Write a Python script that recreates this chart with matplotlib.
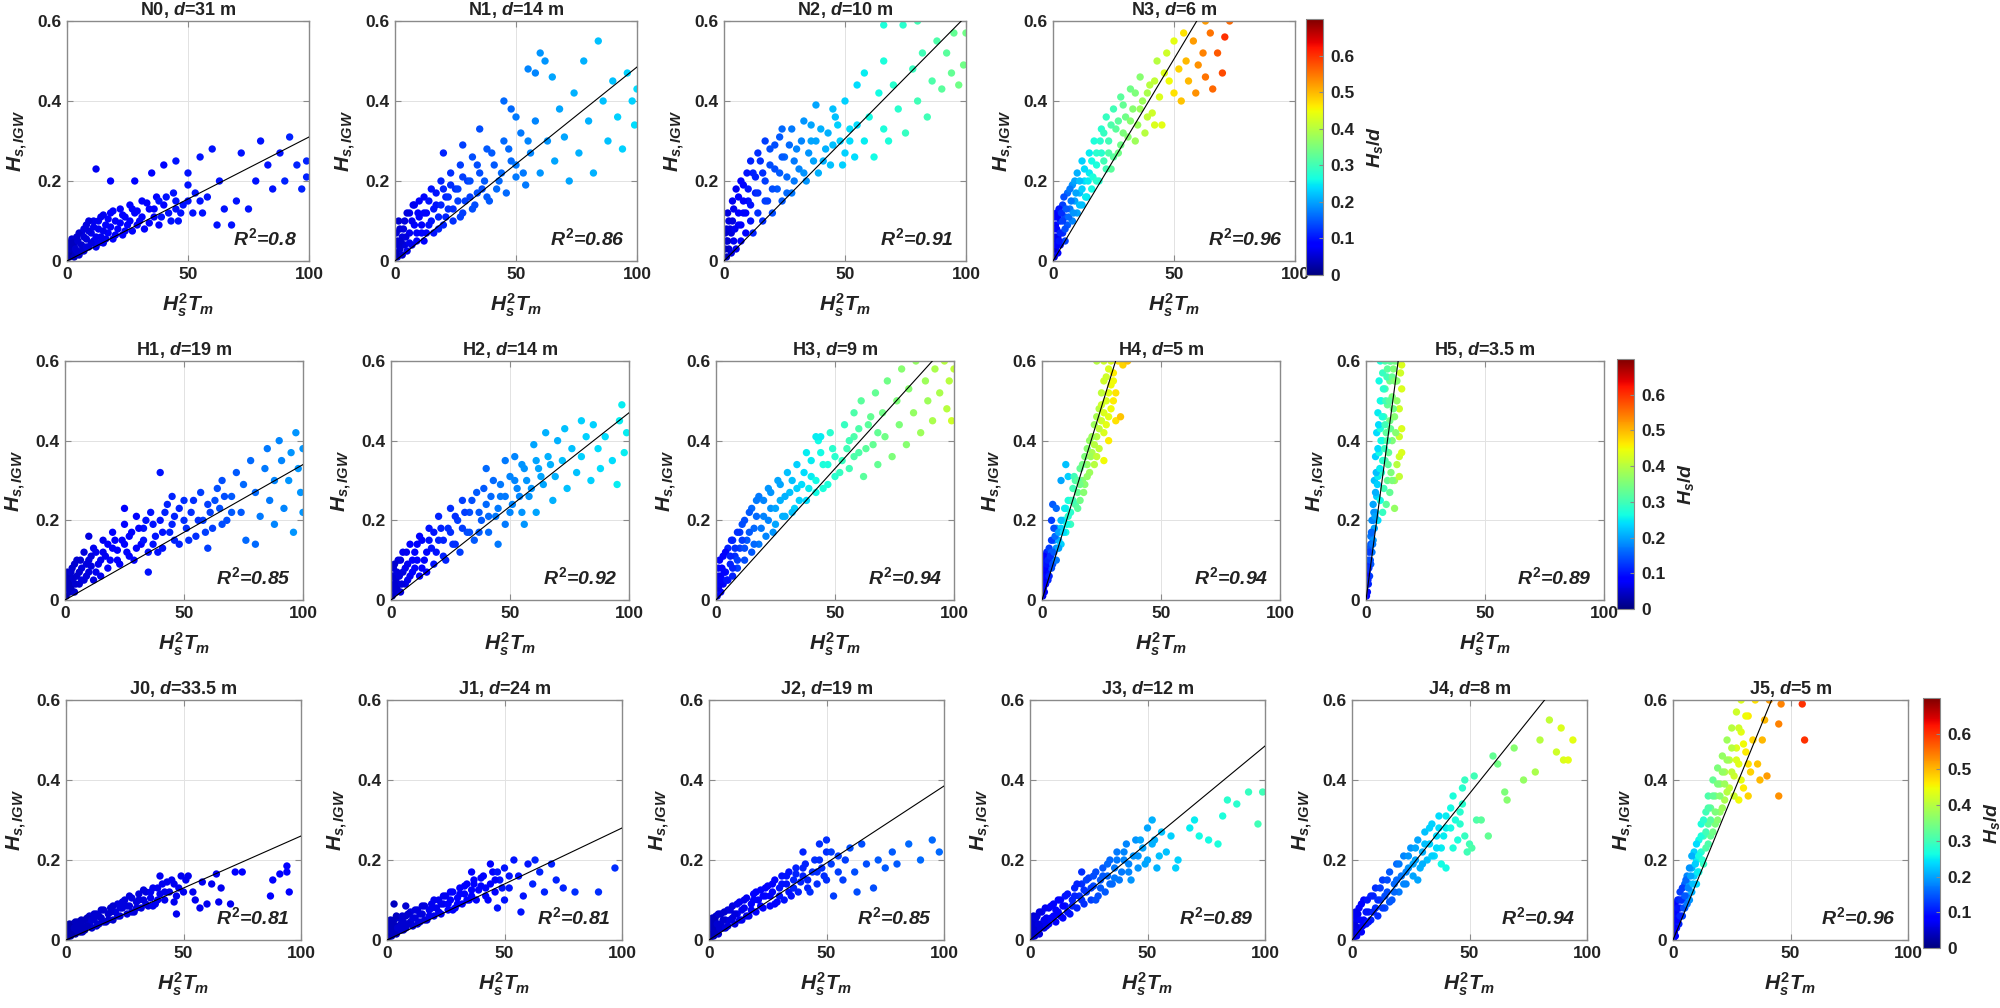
import numpy as np
import matplotlib
matplotlib.use("Agg")
import matplotlib.pyplot as plt
from matplotlib.colors import Normalize
from matplotlib.cm import ScalarMappable

plt.rcParams['font.family'] = ['Liberation Sans', 'DejaVu Sans']
plt.rcParams['font.weight'] = 'bold'
plt.rcParams['axes.titleweight'] = 'bold'
plt.rcParams['axes.labelweight'] = 'bold'
plt.rcParams['mathtext.fontset'] = 'custom'
plt.rcParams['mathtext.rm'] = 'Liberation Sans:bold'
plt.rcParams['mathtext.it'] = 'Liberation Sans:italic:bold'
plt.rcParams['mathtext.bf'] = 'Liberation Sans:bold'

# station info
stations = ['N0', 'N1', 'N2', 'N3', 'H1', 'H2', 'H3', 'H4', 'H5',
            'J0', 'J1', 'J2', 'J3', 'J4', 'J5']
depths = ['31', '14', '10', '6', '19', '14', '9', '5', '3.5',
          '33.5', '24', '19', '12', '8', '5']
r2_text = ['0.8', '0.86', '0.91', '0.96', '0.85', '0.92', '0.94', '0.94', '0.89',
           '0.81', '0.81', '0.85', '0.89', '0.94', '0.96']
fit_slope = [0.0031, 0.00485, 0.00612, 0.0101, 0.0034, 0.0047, 0.0066, 0.0194, 0.0444,
             0.0026, 0.0028, 0.00385, 0.00485, 0.00732, 0.0143]

# (Hs^2 Tm, Hs_IGW, Hs/d): outer cloud + dense core
n0_pts = [(1,.01,.03),(1,.04,.04),(2,.02,.04),(2,.055,.05),(3,.01,.04),(3,.04,.05),(4,.025,.05),(4,.06,.05),
          (5,.015,.05),(6,.04,.05),(6,.07,.06),(7,.025,.06),(8,.055,.06),(8,.09,.06),(9,.035,.06),(10,.07,.07),
          (11,.05,.07),(11,.1,.07),(12,.035,.07),(13,.08,.07),(14,.06,.07),(14,.11,.07),(15,.045,.07),(16,.09,.08),
          (17,.07,.08),(18,.12,.08),(19,.055,.08),(20,.1,.08),(21,.08,.08),(22,.13,.08),(23,.065,.08),(24,.11,.08),
          (25,.09,.08),(26,.14,.09),(27,.075,.09),(28,.12,.09),(30,.1,.09),(31,.15,.09),(32,.08,.09),(34,.13,.09),
          (36,.11,.09),(37,.16,.09),(38,.09,.09),(40,.14,.09),(42,.12,.1),(44,.17,.1),(46,.1,.1),(48,.14,.1),
          (50,.19,.1),(52,.12,.1),(12,.23,.07),(18,.2,.08),(28,.2,.09),(35,.22,.09),(40,.24,.09),(45,.25,.1),
          (50,.22,.1),(55,.26,.1),(60,.28,.1),(58,.16,.1),(63,.2,.1),(65,.13,.1),(68,.09,.1),(70,.15,.1),
          (72,.27,.1),(75,.13,.1),(78,.2,.1),(80,.3,.1),(83,.24,.1),(85,.18,.1),(88,.27,.1),(90,.2,.11),
          (92,.31,.11),(95,.24,.11),(97,.18,.11),(99,.25,.11),(99,.21,.11),(55,.15,.1),(62,.09,.1),(45,.13,.1)]
n0_core = [(.5,.02,.03),(.5,.045,.04),(1.5,.03,.04),(2.5,.045,.04),(3.5,.03,.05),(4.5,.05,.05),(5,.07,.05),
           (6,.025,.05),(7,.06,.06),(7,.08,.06),(8,.035,.06),(9,.075,.06),(9,.1,.06),(10,.045,.06),(11,.085,.07),
           (12,.06,.07),(13,.1,.07),(13,.045,.07),(15,.075,.07),(15,.115,.07),(16,.055,.07),(17,.105,.08),
           (18,.085,.08),(19,.125,.08),(20,.065,.08),(22,.095,.08),(23,.115,.08),(24,.075,.08),(26,.1,.09),
           (27,.13,.09),(29,.09,.09),(29,.125,.09),(31,.11,.09),(33,.145,.09),(34,.095,.09),(36,.13,.09),
           (38,.15,.1),(39,.11,.1),(41,.16,.1),(43,.1,.1),(45,.15,.1),(47,.12,.1),(50,.15,.1),(53,.17,.1),(56,.12,.1)]
n1_pts = [(1,.01,.04),(1,.05,.05),(2,.03,.05),(2,.08,.05),(3,.015,.05),(3,.06,.06),(4,.04,.06),(4,.1,.06),
          (5,.025,.07),(6,.07,.07),(6,.12,.07),(7,.04,.07),(8,.09,.08),(8,.14,.08),(9,.05,.08),(10,.11,.08),
          (11,.07,.09),(12,.16,.09),(12,.05,.09),(13,.12,.09),(14,.09,.1),(15,.18,.1),(16,.07,.1),(17,.14,.1),
          (18,.11,.11),(19,.2,.11),(20,.09,.11),(21,.16,.11),(22,.13,.12),(23,.22,.12),(24,.1,.12),(25,.18,.12),
          (26,.15,.13),(27,.24,.13),(28,.12,.13),(30,.2,.13),(31,.16,.13),(32,.26,.14),(33,.14,.14),(35,.22,.14),
          (36,.18,.14),(38,.28,.15),(39,.15,.15),(41,.24,.15),(43,.2,.16),(45,.3,.16),(46,.17,.16),(48,.25,.16),
          (50,.21,.17),(52,.32,.17),(54,.19,.17),(56,.27,.18),(20,.27,.11),(28,.29,.13),(35,.33,.14),(45,.4,.16),
          (48,.38,.16),(50,.36,.17),(55,.48,.18),(58,.47,.18),(60,.52,.19),(62,.5,.19),(65,.46,.2),(58,.35,.18),
          (60,.22,.19),(63,.3,.19),(66,.25,.2),(68,.38,.2),(70,.31,.2),(72,.2,.2),(74,.42,.21),(76,.27,.21),
          (78,.5,.21),(80,.35,.21),(82,.22,.21),(84,.55,.22),(86,.4,.22),(88,.3,.22),(90,.45,.22),(92,.36,.23),
          (94,.28,.23),(96,.47,.23),(98,.4,.23),(99,.34,.24),(100,.43,.24)]
n1_core = [(.5,.02,.04),(.5,.07,.05),(1.5,.04,.05),(1.5,.1,.05),(2.5,.05,.05),(3.5,.08,.06),(4.5,.06,.06),
           (5,.12,.06),(6,.045,.07),(7,.1,.07),(7.5,.14,.07),(9,.07,.08),(9.5,.12,.08),(10,.15,.08),(11,.09,.09),
           (12,.12,.09),(13,.07,.09),(14,.15,.1),(15,.1,.1),(16,.13,.1),(17,.17,.1),(18,.08,.11),(19,.14,.11),
           (20,.18,.11),(21,.11,.11),(22,.16,.12),(23,.19,.12),(24,.13,.12),(26,.18,.13),(27,.11,.13),
           (28,.21,.13),(29,.15,.13),(31,.2,.14),(32,.13,.14),(34,.17,.14),(34,.24,.14),(37,.2,.15),(38,.16,.15),
           (40,.27,.15),(42,.18,.16),(44,.22,.16),(47,.28,.16),(50,.24,.17),(53,.22,.17),(55,.3,.18)]
n2_pts = [(1,.01,.04),(1,.05,.05),(1,.08,.05),(2,.03,.05),(2,.1,.06),(3,.02,.06),(3,.07,.06),(4,.05,.07),
          (4,.13,.07),(5,.03,.07),(6,.09,.08),(6,.16,.08),(7,.05,.08),(8,.12,.09),(8,.19,.09),(9,.07,.09),
          (10,.15,.1),(11,.1,.1),(12,.22,.11),(12,.07,.11),(13,.17,.11),(14,.12,.12),(15,.25,.12),(16,.1,.12),
          (17,.2,.13),(18,.15,.13),(19,.28,.14),(20,.12,.14),(21,.23,.14),(22,.18,.15),(23,.31,.15),(24,.15,.15),
          (25,.26,.16),(26,.21,.16),(28,.33,.17),(28,.17,.17),(30,.28,.18),(31,.23,.18),(33,.35,.19),(34,.2,.19),
          (36,.3,.2),(37,.25,.2),(39,.22,.21),(40,.33,.21),(42,.28,.21),(44,.24,.22),(46,.36,.22),(48,.3,.23),
          (50,.27,.23),(38,.39,.2),(45,.38,.22),(50,.4,.23),(52,.33,.24),(54,.26,.24),(55,.44,.24),(58,.47,.25),
          (58,.3,.25),(60,.36,.26),(62,.26,.26),(64,.42,.26),(66,.5,.27),(66,.33,.27),(68,.3,.27),(70,.44,.28),
          (72,.38,.28),(74,.59,.28),(75,.32,.29),(78,.48,.29),(80,.4,.3),(82,.52,.3),(84,.36,.3),(86,.45,.31),
          (88,.55,.31),(90,.43,.32),(92,.52,.32),(94,.47,.33),(95,.57,.33),(97,.44,.34),(99,.49,.34),(100,.57,.34),
          (80,.6,.3),(66,.59,.27)]
n2_core = [(.5,.03,.04),(.5,.07,.05),(1.5,.05,.05),(1.5,.12,.06),(2.5,.08,.06),(3.5,.1,.06),(3.5,.15,.07),
           (4.5,.08,.07),(5,.18,.07),(6,.12,.08),(7,.09,.08),(7,.2,.08),(8,.15,.09),(9,.12,.09),(9.5,.22,.1),
           (10,.18,.1),(11,.14,.1),(11,.25,.11),(13,.21,.11),(14,.17,.12),(14,.27,.12),(16,.22,.12),(17,.15,.13),
           (17,.3,.13),(19,.24,.14),(20,.18,.14),(21,.29,.14),(23,.22,.15),(24,.26,.15),(24,.33,.16),(26,.17,.16),
           (27,.29,.16),(29,.2,.17),(29,.25,.17),(32,.3,.18),(33,.22,.19),(35,.27,.19),(36,.34,.2),(38,.3,.2),
           (41,.25,.21),(43,.32,.21),(45,.29,.22),(47,.34,.23),(49,.24,.23),(52,.3,.24),(55,.34,.24)]
n3_pts = [(.5,.01,.05),(.5,.05,.06),(1,.03,.07),(1,.09,.08),(1.5,.12,.09),(2,.02,.08),(2,.06,.09),(3,.04,.1),
          (3,.1,.11),(4,.07,.12),(4,.14,.13),(5,.05,.13),(5,.11,.14),(6,.09,.15),(6,.17,.16),(7,.13,.17),
          (8,.1,.18),(8,.19,.19),(9,.15,.2),(10,.12,.2),(10,.22,.21),(11,.17,.22),(12,.14,.22),(12,.25,.23),
          (13,.2,.24),(14,.16,.24),(15,.27,.25),(15,.22,.25),(16,.18,.26),(17,.3,.27),(18,.24,.27),(19,.2,.28),
          (20,.33,.28),(20,.27,.28),(22,.23,.3),(22,.36,.29),(23,.3,.3),(25,.26,.32),(25,.38,.3),(26,.33,.32),
          (28,.29,.34),(28,.41,.32),(30,.36,.34),(31,.31,.36),(32,.43,.34),(33,.38,.36),(35,.34,.38),(36,.46,.36),
          (37,.4,.38),(38,.32,.4),(40,.44,.4),(41,.37,.42),(43,.5,.4),(44,.41,.43),(45,.34,.44),(47,.52,.42),
          (48,.45,.45),(50,.55,.44),(50,.42,.47),(52,.48,.48),(53,.4,.49),(54,.57,.47),(55,.5,.5),(56,.45,.5),
          (58,.55,.52),(59,.42,.53),(60,.49,.53),(62,.52,.54),(63,.46,.55),(65,.57,.55),(66,.43,.56),(68,.52,.57),
          (70,.47,.58),(71,.56,.6),(73,.6,.56),(63,.6,.52)]
n3_core = [(.3,.03,.05),(.3,.08,.06),(.8,.06,.07),(.8,.11,.08),(1.5,.04,.08),(1.5,.08,.09),(2,.11,.09),
           (2.5,.05,.1),(2.5,.13,.1),(3,.07,.11),(3.5,.12,.12),(4,.1,.13),(4.5,.16,.14),(5,.08,.14),(5.5,.13,.15),
           (6.5,.11,.16),(7,.18,.17),(7.5,.15,.17),(8.5,.12,.19),(9,.2,.2),(9.5,.17,.2),(11,.2,.22),(11,.14,.22),
           (12,.18,.23),(13,.23,.24),(13.5,.16,.25),(14.5,.2,.25),(16,.25,.26),(16.5,.21,.27),(18,.27,.28),
           (18,.2,.28),(19.5,.3,.28),(21,.25,.3),(21,.32,.29),(23,.27,.31),(24,.34,.31),(24,.23,.32),(27,.35,.32),
           (27,.27,.34),(29,.39,.33),(29,.32,.35),(32,.35,.36),(34,.42,.35),(34,.3,.38),(36,.38,.38),(39,.42,.39),
           (39,.36,.41),(42,.45,.41),(42,.34,.43),(46,.47,.43)]
h1_pts = [(.5,.01,.03),(.5,.05,.04),(1,.03,.04),(1,.07,.04),(2,.02,.04),(2,.05,.04),(3,.04,.05),(3,.08,.05),
          (4,.02,.05),(5,.06,.05),(5,.1,.05),(6,.04,.05),(7,.08,.06),(8,.05,.06),(8,.12,.06),(10,.07,.06),
          (10,.1,.06),(12,.05,.06),(12,.13,.07),(14,.09,.07),(15,.06,.07),(16,.15,.07),(17,.11,.07),(18,.08,.08),
          (20,.13,.08),(20,.17,.08),(22,.1,.08),(24,.15,.08),(25,.19,.08),(26,.12,.09),(28,.17,.09),(29,.1,.09),
          (30,.21,.09),(32,.14,.09),(33,.18,.1),(35,.12,.1),(36,.22,.1),(38,.16,.1),(40,.2,.1),(41,.13,.1),
          (43,.24,.11),(44,.17,.11),(46,.21,.11),(48,.14,.11),(50,.25,.12),(51,.18,.12),(53,.22,.12),(55,.16,.12),
          (57,.27,.13),(58,.2,.13),(60,.24,.13),(62,.18,.13),(64,.28,.14),(10,.16,.06),(25,.23,.08),(40,.32,.1),
          (45,.26,.11),(35,.07,.1),(60,.13,.13),(65,.23,.14),(66,.3,.14),(68,.2,.14),(70,.26,.15),(72,.32,.15),
          (74,.22,.15),(75,.29,.16),(76,.15,.16),(78,.35,.16),(80,.27,.16),(82,.21,.17),(84,.33,.17),(85,.38,.17),
          (86,.25,.17),(88,.19,.18),(88,.3,.18),(90,.4,.18),(91,.35,.18),(92,.23,.18),(94,.3,.19),(95,.37,.19),
          (96,.17,.19),(97,.42,.19),(98,.33,.19),(99,.27,.19),(100,.38,.19),(100,.22,.19),(80,.14,.16)]
h1_core = [(.5,.03,.04),(1,.05,.04),(1.5,.04,.04),(1.5,.065,.04),(2.5,.03,.04),(2.5,.07,.05),(3.5,.055,.05),
           (4,.09,.05),(4.5,.04,.05),(6,.07,.05),(6.5,.1,.05),(7,.05,.06),(9,.09,.06),(9,.06,.06),(11,.11,.06),
           (11,.085,.06),(13,.07,.07),(13,.12,.07),(15,.1,.07),(16,.12,.07),(18,.14,.08),(19,.1,.08),(21,.15,.08),
           (22,.125,.08),(23,.09,.08),(25,.14,.08),(27,.11,.09),(27,.16,.09),(30,.13,.09),(31,.18,.09),(33,.15,.1),
           (34,.2,.1),(37,.14,.1),(37,.19,.1),(39,.12,.1),(41,.17,.1),(42,.22,.11),(45,.19,.11),(46,.15,.11),
           (48,.23,.11),(50,.2,.12),(52,.15,.12),(54,.25,.12),(56,.2,.12),(59,.17,.13),(61,.22,.13),(63,.25,.14),
           (66,.19,.14),(67,.26,.14),(70,.22,.15)]
h2_pts = [(.5,.01,.04),(.5,.06,.05),(1,.03,.05),(1,.08,.05),(2,.02,.05),(2,.05,.05),(3,.04,.06),(3,.1,.06),
          (4,.02,.06),(5,.07,.06),(5,.12,.07),(6,.04,.07),(7,.09,.07),(8,.06,.07),(8,.14,.08),(10,.08,.08),
          (10,.12,.08),(12,.06,.08),(12,.16,.09),(14,.1,.09),(15,.07,.09),(16,.18,.1),(17,.13,.1),(18,.09,.1),
          (20,.15,.11),(20,.21,.11),(22,.11,.11),(24,.18,.12),(25,.23,.12),(26,.14,.12),(28,.2,.13),(29,.12,.13),
          (30,.25,.13),(32,.17,.14),(33,.22,.14),(35,.15,.15),(36,.27,.15),(38,.2,.15),(40,.24,.16),(41,.17,.16),
          (43,.3,.16),(44,.21,.17),(46,.26,.17),(48,.19,.17),(50,.31,.18),(51,.24,.18),(53,.28,.18),(55,.22,.19),
          (40,.33,.16),(48,.35,.17),(45,.14,.17),(52,.36,.18),(55,.34,.19),(56,.19,.19),(57,.3,.19),(58,.26,.19),
          (60,.39,.2),(61,.22,.2),(62,.33,.2),(64,.29,.2),(65,.42,.21),(66,.36,.21),(68,.25,.21),(69,.31,.21),
          (70,.4,.21),(72,.35,.22),(73,.43,.22),(74,.28,.22),(76,.38,.22),(78,.32,.22),(80,.45,.23),(80,.36,.23),
          (82,.41,.23),(84,.3,.23),(85,.44,.23),(87,.38,.24),(88,.33,.24),(90,.41,.24),(93,.35,.24),(95,.29,.25),
          (96,.45,.25),(97,.49,.25),(98,.37,.25),(99,.42,.25)]
h2_core = [(.5,.03,.05),(1,.06,.05),(1.5,.04,.05),(1.5,.09,.05),(2.5,.03,.05),(2.5,.07,.06),(3.5,.06,.06),
           (4,.1,.06),(4.5,.04,.06),(6,.08,.07),(6.5,.12,.07),(7,.05,.07),(9,.1,.08),(9,.07,.08),(11,.14,.08),
           (11,.1,.08),(13,.08,.09),(13,.15,.09),(15,.12,.09),(16,.15,.1),(18,.17,.1),(19,.12,.1),(21,.18,.11),
           (22,.15,.11),(23,.1,.11),(25,.17,.12),(27,.14,.12),(27,.21,.12),(30,.18,.13),(31,.22,.13),(33,.17,.14),
           (34,.25,.14),(37,.22,.15),(37,.17,.15),(39,.28,.15),(41,.21,.16),(42,.26,.16),(45,.23,.17),(46,.29,.17),
           (48,.26,.17),(50,.22,.18),(52,.3,.18),(54,.26,.18),(56,.33,.19),(59,.28,.19),(61,.35,.2),(63,.31,.2),
           (67,.34,.21)]
h3_pts = [(.5,.01,.06),(.5,.05,.07),(1,.03,.07),(1,.08,.08),(2,.02,.08),(2,.06,.08),(3,.04,.09),(3,.11,.09),
          (4,.07,.1),(5,.05,.1),(5,.13,.11),(6,.09,.11),(7,.06,.11),(7,.15,.12),(8,.11,.12),(9,.08,.13),
          (10,.17,.13),(10,.13,.13),(12,.1,.14),(12,.2,.14),(13,.15,.15),(15,.12,.15),(15,.23,.16),(16,.18,.16),
          (18,.14,.17),(18,.26,.17),(20,.21,.18),(21,.16,.18),(22,.28,.19),(23,.23,.19),(25,.19,.2),(26,.3,.2),
          (27,.25,.21),(29,.21,.21),(30,.32,.22),(31,.27,.22),(33,.23,.23),(34,.34,.23),(36,.29,.24),(38,.25,.24),
          (38,.37,.25),(40,.31,.25),(42,.27,.26),(43,.4,.26),(45,.34,.27),(47,.29,.27),(48,.42,.28),(50,.36,.28),
          (52,.32,.29),(54,.44,.29),(55,.38,.3),(42,.41,.25),(44,.41,.25),(56,.33,.3),(58,.47,.31),(58,.41,.31),
          (60,.37,.31),(61,.5,.32),(62,.31,.32),(64,.44,.32),(66,.39,.33),(67,.52,.33),(68,.34,.33),(70,.47,.34),
          (71,.41,.34),(72,.55,.34),(74,.36,.35),(76,.5,.35),(77,.44,.35),(78,.58,.36),(80,.39,.36),(81,.53,.36),
          (83,.47,.37),(84,.6,.37),(86,.42,.38),(88,.55,.38),(89,.5,.38),(91,.45,.39),(92,.58,.39),(94,.52,.39),
          (96,.6,.4),(97,.48,.4),(98,.55,.4),(100,.58,.41),(99,.45,.42)]
h3_core = [(.5,.03,.06),(1,.06,.07),(1.5,.04,.07),(1.5,.1,.08),(2.5,.05,.08),(2.5,.08,.08),(3.5,.07,.09),
           (4,.12,.09),(4.5,.05,.1),(6,.11,.11),(6.5,.15,.11),(7,.08,.11),(8,.13,.12),(9,.17,.12),(9,.1,.13),
           (11,.15,.13),(11,.19,.14),(12,.13,.14),(14,.17,.15),(14,.22,.15),(16,.14,.16),(17,.21,.16),(17,.25,.17),
           (19,.18,.17),(20,.25,.18),(22,.2,.18),(23,.27,.19),(24,.17,.19),(25,.23,.2),(27,.29,.2),(28,.21,.21),
           (29,.26,.21),(32,.3,.22),(32,.22,.22),(34,.28,.23),(35,.25,.23),(37,.32,.24),(39,.28,.25),(40,.35,.25),
           (42,.3,.26),(44,.37,.26),(45,.28,.27),(47,.34,.27),(49,.38,.28),(50,.31,.28),(53,.35,.29),(56,.4,.3),
           (58,.36,.31),(60,.43,.31),(63,.38,.32),(65,.46,.33),(68,.42,.33)]
h4_pts = [(.3,.01,.06),(.3,.05,.07),(.6,.03,.07),(.6,.09,.08),(1,.02,.08),(1,.06,.09),(1.5,.04,.09),(1.5,.1,.1),
          (2,.07,.1),(2,.12,.11),(2.5,.05,.11),(3,.09,.12),(3,.13,.13),(4,.08,.14),(4,.12,.15),(5,.1,.16),
          (5,.15,.17),(6,.13,.19),(6,.18,.2),(7,.15,.21),(8,.18,.23),(8,.14,.23),(9,.2,.25),(10,.17,.26),
          (10,.23,.26),(11,.21,.28),(12,.25,.29),(12,.19,.29),(13,.28,.3),(14,.24,.31),(14,.3,.31),(15,.27,.33),
          (16,.33,.33),(16,.25,.34),(17,.3,.35),(18,.36,.35),(18,.29,.36),(19,.34,.37),(20,.4,.37),(20,.32,.38),
          (21,.37,.39),(22,.44,.38),(22,.34,.4),(23,.41,.4),(24,.48,.4),(24,.38,.41),(25,.45,.42),(25,.52,.41),
          (26,.42,.43),(27,.5,.43),(27,.56,.42),(28,.46,.44),(29,.54,.45),(29,.6,.43),(30,.5,.46),(4,.2,.13),
          (4.5,.24,.15),(5,.18,.14),(6,.23,.16),(8,.3,.2),(10,.34,.22),(11,.31,.23),(26,.35,.45),(28,.4,.46),
          (30,.57,.46),(31,.45,.47),(32,.6,.47),(33,.46,.49),(34,.59,.48),(36,.6,.49),(23,.6,.4),(26,.6,.42)]
h4_core = [(.2,.02,.06),(.2,.07,.07),(.5,.05,.07),(.8,.11,.08),(1,.04,.08),(1.2,.08,.09),(1.8,.06,.09),
           (2,.09,.1),(2.5,.1,.11),(3,.06,.11),(3.5,.11,.12),(4,.15,.13),(4.5,.09,.14),(5,.12,.15),(5.5,.16,.16),
           (6,.1,.17),(7,.17,.2),(7,.13,.2),(8,.2,.22),(9,.17,.24),(9.5,.23,.25),(10.5,.19,.26),(11,.25,.27),
           (12,.22,.28),(13,.25,.3),(13.5,.31,.3),(15,.23,.32),(15,.3,.32),(16,.29,.34),(17,.34,.34),
           (17.5,.27,.36),(19,.31,.37),(19,.38,.36),(20.5,.36,.38),(21,.41,.38),(22,.39,.4),(23,.36,.41),
           (23,.46,.39),(24,.43,.41),(25,.49,.42),(26,.47,.43),(26,.55,.42),(27,.44,.44),(28,.52,.44),(28,.58,.43),
           (29,.48,.45),(30,.55,.45),(31,.52,.47)]
h5_pts = [(.2,.01,.08),(.3,.04,.09),(.6,.02,.1),(.5,.07,.11),(1,.04,.12),(1,.1,.13),(1.5,.06,.13),(1.5,.13,.15),
          (2,.09,.15),(2,.16,.17),(2.5,.12,.17),(2.5,.2,.19),(3,.15,.19),(3,.24,.2),(3.5,.18,.2),(3.5,.3,.22),
          (4,.22,.22),(4,.36,.23),(4.5,.26,.23),(4.5,.42,.24),(5,.2,.24),(5,.31,.25),(5,.47,.25),(5.5,.37,.26),
          (5.5,.55,.26),(6,.25,.26),(6,.43,.27),(6,.6,.27),(6.5,.32,.28),(6.5,.5,.28),(7,.22,.29),(7,.4,.29),
          (7,.57,.29),(7.5,.28,.3),(7.5,.46,.3),(8,.35,.31),(8,.53,.31),(8,.6,.31),(8.5,.24,.32),(8.5,.42,.32),
          (9,.3,.33),(9,.49,.33),(9,.58,.32),(9.5,.37,.33),(10,.45,.34),(10,.55,.34),(10.5,.32,.35),(10.5,.6,.34),
          (11,.4,.35),(11,.51,.35),(11.5,.58,.35),(12,.46,.36),(12.5,.55,.36),(13,.6,.37),(13,.5,.37),(12,.3,.38),
          (13,.34,.4),(14,.36,.42),(15,.37,.43),(14,.31,.41),(15,.43,.43),(14,.48,.42),(15,.53,.43),(15,.59,.43),
          (14.5,.57,.42),(12,.23,.37),(14,.41,.42)]
h5_core = [(.1,.02,.08),(.3,.06,.09),(.5,.04,.1),(.7,.09,.11),(.8,.05,.11),(1.2,.08,.12),(1.3,.12,.13),
           (1.8,.1,.14),(2,.14,.15),(2.3,.17,.16),(2.8,.14,.17),(3,.2,.18),(3.3,.22,.19),(3.8,.21,.2),(4,.27,.21),
           (4.3,.32,.22),(4.8,.29,.23),(5,.38,.24),(5.3,.44,.24),(5.8,.33,.25),(6,.5,.26),(6.3,.4,.26),
           (6.8,.46,.27),(7,.35,.28),(7.3,.53,.28),(7.8,.38,.29),(8,.44,.3),(8.3,.5,.3),(8.8,.56,.3),(9,.4,.31),
           (9.3,.34,.32),(9.8,.5,.32),(10,.6,.32),(10.3,.43,.33),(11,.56,.33),(11.5,.48,.34),(12,.55,.35),
           (12,.6,.34),(12.5,.42,.36),(13,.55,.36),(10,.27,.33),(11,.3,.35)]
j0_pts = [(.5,.005,.02),(.5,.025,.03),(1,.015,.03),(1,.035,.03),(2,.01,.03),(2,.03,.03),(3,.02,.03),(3,.04,.04),
          (4,.015,.04),(5,.03,.04),(5,.045,.04),(6,.02,.04),(7,.035,.04),(8,.05,.04),(8,.025,.04),(10,.04,.05),
          (10,.06,.05),(11,.03,.05),(12,.05,.05),(13,.065,.05),(14,.04,.05),(15,.055,.05),(16,.075,.05),(17,.045,.05),
          (18,.065,.05),(19,.08,.05),(20,.05,.05),(21,.07,.06),(22,.09,.06),(23,.06,.06),(24,.08,.06),(25,.1,.06),
          (26,.065,.06),(27,.085,.06),(28,.105,.06),(29,.07,.06),(30,.095,.06),(31,.115,.06),(32,.08,.06),(33,.1,.06),
          (34,.12,.06),(35,.085,.06),(36,.105,.07),(37,.13,.07),(38,.09,.07),(40,.115,.07),(41,.14,.07),(42,.1,.07),
          (44,.12,.07),(45,.15,.07),(46,.095,.07),(48,.13,.07),(40,.16,.07),(47,.065,.07),(49,.16,.07),(52,.16,.07),
          (54,.12,.07),(55,.1,.07),(57,.08,.07),(58,.145,.07),(60,.09,.07),(62,.14,.07),(64,.165,.07),(65,.095,.07),
          (66,.13,.07),(70,.09,.07),(72,.17,.08),(75,.17,.08),(87,.11,.08),(88,.15,.08),(91,.165,.08),(94,.185,.08),
          (94,.17,.08),(95,.12,.08)]
j0_core = [(.5,.015,.03),(1.5,.025,.03),(1.5,.04,.03),(2.5,.015,.03),(2.5,.035,.03),(3.5,.03,.04),(4,.045,.04),
           (4.5,.025,.04),(6,.035,.04),(6.5,.05,.04),(7,.02,.04),(9,.035,.04),(9,.055,.04),(11,.05,.05),
           (12,.065,.05),(13,.035,.05),(14,.06,.05),(15,.075,.05),(16,.045,.05),(18,.05,.05),(19,.07,.05),
           (20,.085,.05),(22,.06,.06),(23,.08,.06),(24,.095,.06),(26,.085,.06),(27,.11,.06),(28,.07,.06),
           (30,.08,.06),(31,.1,.06),(33,.125,.06),(34,.09,.06),(36,.12,.07),(37,.085,.07),(39,.13,.07),(39,.1,.07),
           (42,.12,.07),(43,.145,.07),(46,.14,.07),(47,.11,.07),(50,.12,.07),(51,.15,.07)]
j1_pts = [(.5,.005,.03),(.5,.03,.03),(1,.015,.03),(1,.04,.04),(2,.01,.04),(2,.035,.04),(3,.02,.04),(3,.05,.04),
          (4,.015,.04),(5,.035,.05),(5,.055,.05),(6,.025,.05),(7,.045,.05),(8,.06,.05),(8,.03,.05),(10,.045,.05),
          (10,.07,.06),(11,.035,.06),(12,.055,.06),(13,.075,.06),(14,.045,.06),(15,.065,.06),(16,.085,.06),(17,.05,.06),
          (18,.075,.07),(19,.09,.07),(20,.06,.07),(21,.08,.07),(22,.1,.07),(23,.065,.07),(24,.09,.07),(25,.11,.07),
          (26,.075,.08),(27,.1,.08),(28,.12,.08),(29,.08,.08),(30,.105,.08),(31,.13,.08),(32,.09,.08),(33,.115,.08),
          (34,.14,.08),(35,.1,.08),(36,.125,.09),(37,.15,.09),(38,.1,.09),(40,.135,.09),(41,.16,.09),(42,.11,.09),
          (44,.14,.09),(45,.17,.09),(46,.12,.09),(48,.15,.1),(50,.18,.1),(3,.09,.04),(8,.085,.05),(36,.17,.09),
          (44,.19,.09),(47,.08,.1),(50,.1,.1),(52,.13,.1),(54,.2,.1),(56,.16,.1),(57,.07,.1),(58,.11,.1),
          (60,.19,.1),(62,.14,.11),(63,.2,.11),(65,.17,.11),(67,.12,.11),(70,.19,.11),(72,.15,.11),(75,.13,.11),
          (80,.12,.12),(90,.12,.12),(97,.18,.12)]
j1_core = [(.5,.02,.03),(1.5,.025,.04),(1.5,.05,.04),(2.5,.02,.04),(2.5,.045,.04),(3.5,.035,.04),(4,.06,.04),
           (4.5,.03,.05),(6,.04,.05),(6.5,.06,.05),(7,.025,.05),(9,.04,.05),(9,.065,.05),(11,.055,.06),
           (12,.075,.06),(13,.04,.06),(14,.065,.06),(15,.085,.06),(16,.05,.06),(18,.06,.07),(19,.08,.07),
           (20,.1,.07),(22,.07,.07),(23,.09,.07),(24,.11,.07),(26,.09,.08),(27,.12,.08),(28,.075,.08),(30,.09,.08),
           (31,.115,.08),(33,.135,.08),(34,.1,.08),(36,.11,.09),(37,.14,.09),(39,.125,.09),(40,.155,.09),
           (42,.13,.09),(43,.1,.09),(46,.15,.09),(47,.17,.1),(49,.13,.1),(52,.16,.1)]
j2_pts = [(.5,.005,.03),(.5,.035,.04),(1,.015,.04),(1,.045,.04),(2,.01,.04),(2,.04,.04),(3,.025,.05),(3,.06,.05),
          (4,.015,.05),(5,.04,.05),(5,.065,.05),(6,.03,.05),(7,.05,.06),(8,.075,.06),(8,.035,.06),(10,.055,.06),
          (10,.085,.06),(11,.04,.06),(12,.065,.07),(13,.095,.07),(14,.05,.07),(15,.08,.07),(16,.105,.07),(17,.06,.07),
          (18,.09,.08),(19,.115,.08),(20,.07,.08),(21,.1,.08),(22,.125,.08),(23,.08,.08),(24,.11,.09),(25,.135,.09),
          (26,.085,.09),(27,.12,.09),(28,.15,.09),(29,.095,.09),(30,.13,.1),(31,.16,.1),(32,.1,.1),(33,.14,.1),
          (34,.17,.1),(35,.11,.1),(36,.15,.11),(37,.18,.11),(38,.12,.11),(40,.16,.11),(41,.19,.11),(42,.13,.11),
          (44,.17,.12),(45,.2,.12),(46,.14,.12),(48,.18,.12),(50,.22,.12),(50,.15,.12),(40,.22,.11),(47,.24,.12),
          (50,.25,.12),(52,.19,.13),(53,.11,.13),(55,.21,.13),(57,.15,.13),(58,.2,.13),(60,.23,.14),(62,.17,.14),
          (63,.12,.14),(65,.24,.14),(67,.19,.14),(70,.13,.14),(72,.2,.15),(75,.18,.15),(78,.22,.15),(80,.19,.15),
          (85,.24,.16),(90,.2,.16),(95,.25,.16),(98,.22,.16)]
j2_core = [(.5,.02,.03),(1.5,.03,.04),(1.5,.055,.04),(2.5,.02,.04),(2.5,.05,.04),(3.5,.04,.05),(4,.065,.05),
           (4.5,.03,.05),(6,.05,.05),(6.5,.07,.05),(7,.03,.06),(9,.05,.06),(9,.075,.06),(11,.065,.06),(12,.09,.07),
           (13,.05,.07),(14,.075,.07),(15,.1,.07),(16,.06,.07),(18,.075,.08),(19,.1,.08),(20,.12,.08),(22,.085,.08),
           (23,.11,.08),(24,.13,.09),(26,.11,.09),(27,.14,.09),(28,.09,.09),(30,.11,.1),(31,.14,.1),(33,.16,.1),
           (34,.12,.1),(36,.13,.11),(37,.165,.11),(39,.145,.11),(40,.18,.11),(42,.15,.11),(43,.12,.12),
           (46,.17,.12),(47,.2,.12),(49,.16,.12),(52,.22,.13),(55,.17,.13)]
j3_pts = [(.5,.005,.04),(.5,.04,.05),(1,.02,.05),(1,.05,.05),(2,.01,.05),(2,.045,.05),(3,.025,.06),(3,.06,.06),
          (4,.015,.06),(5,.04,.06),(5,.07,.07),(6,.03,.07),(7,.055,.07),(8,.08,.07),(8,.04,.08),(10,.06,.08),
          (10,.09,.08),(11,.045,.08),(12,.07,.09),(13,.1,.09),(14,.055,.09),(15,.085,.1),(16,.115,.1),(17,.065,.1),
          (18,.1,.11),(19,.13,.11),(20,.08,.11),(21,.11,.12),(22,.14,.12),(23,.09,.12),(24,.12,.13),(25,.155,.13),
          (26,.1,.13),(27,.135,.14),(28,.17,.14),(29,.11,.14),(30,.15,.15),(31,.18,.15),(32,.12,.15),(33,.16,.16),
          (34,.2,.16),(35,.14,.16),(36,.18,.17),(37,.22,.17),(38,.15,.17),(40,.2,.18),(41,.24,.18),(42,.17,.18),
          (44,.21,.19),(45,.25,.19),(46,.18,.19),(48,.23,.2),(50,.28,.2),(50,.2,.2),(22,.17,.12),(52,.3,.21),
          (53,.25,.21),(54,.18,.21),(56,.27,.22),(58,.22,.22),(60,.26,.23),(62,.18,.23),(63,.2,.23),(68,.28,.25),
          (70,.3,.25),(72,.26,.26),(76,.25,.26),(80,.24,.27),(82,.31,.27),(84,.35,.28),(88,.34,.28),(93,.37,.29),
          (97,.29,.3),(99,.37,.3)]
j3_core = [(.5,.02,.04),(1.5,.03,.05),(1.5,.06,.05),(2.5,.02,.05),(2.5,.055,.06),(3.5,.04,.06),(4,.07,.06),
           (4.5,.03,.06),(6,.05,.07),(6.5,.08,.07),(7,.035,.07),(9,.055,.08),(9,.085,.08),(11,.075,.08),
           (12,.1,.09),(13,.06,.09),(14,.085,.09),(15,.11,.1),(16,.07,.1),(18,.085,.11),(19,.11,.11),(20,.14,.11),
           (22,.1,.12),(23,.125,.12),(24,.15,.13),(26,.13,.13),(27,.16,.14),(28,.1,.14),(30,.13,.15),(31,.16,.15),
           (33,.19,.16),(34,.14,.16),(36,.155,.17),(37,.2,.17),(39,.17,.17),(40,.22,.18),(42,.19,.18),(43,.15,.19),
           (46,.21,.19),(47,.25,.2),(49,.19,.2),(52,.24,.21),(55,.21,.22)]
j4_pts = [(.5,.005,.05),(.5,.04,.06),(1,.02,.06),(1,.06,.07),(2,.01,.07),(2,.05,.07),(3,.03,.08),(3,.08,.08),
          (4,.02,.08),(5,.05,.09),(5,.1,.09),(6,.04,.1),(7,.07,.1),(8,.11,.11),(8,.05,.11),(10,.08,.12),
          (10,.13,.12),(11,.06,.12),(12,.1,.13),(13,.15,.13),(14,.08,.14),(15,.12,.14),(16,.17,.15),(17,.1,.15),
          (18,.14,.16),(19,.19,.16),(20,.12,.17),(21,.16,.17),(22,.21,.18),(23,.14,.18),(24,.18,.19),(25,.23,.19),
          (26,.16,.2),(27,.2,.2),(28,.25,.2),(29,.18,.21),(30,.22,.21),(31,.27,.22),(32,.2,.22),(33,.24,.23),
          (34,.29,.23),(35,.21,.24),(36,.26,.24),(37,.31,.24),(38,.23,.25),(40,.28,.25),(42,.33,.26),(44,.3,.27),
          (45,.25,.27),(38,.19,.26),(40,.18,.26),(43,.36,.27),(46,.32,.28),(47,.38,.28),(48,.4,.29),(49,.22,.3),
          (50,.24,.3),(51,.23,.31),(52,.41,.3),(53,.3,.31),(55,.3,.32),(58,.26,.33),(60,.46,.33),(62,.44,.34),
          (65,.37,.35),(66,.35,.36),(69,.48,.36),(73,.4,.37),(78,.42,.39),(80,.5,.4),(84,.55,.41),(87,.47,.42),
          (89,.53,.43),(90,.45,.43),(92,.45,.44),(94,.5,.44)]
j4_core = [(.5,.02,.05),(1.5,.035,.06),(1.5,.07,.07),(2.5,.02,.07),(2.5,.065,.07),(3.5,.05,.08),(4,.09,.08),
           (4.5,.035,.09),(6,.07,.1),(6.5,.1,.1),(7,.045,.1),(9,.07,.11),(9,.11,.11),(11,.1,.12),(12,.13,.13),
           (13,.08,.13),(14,.11,.14),(15,.15,.14),(16,.095,.15),(18,.12,.16),(19,.15,.16),(20,.19,.17),
           (22,.14,.18),(23,.17,.18),(24,.21,.19),(26,.19,.2),(27,.23,.2),(28,.15,.2),(30,.19,.21),(31,.24,.22),
           (33,.28,.23),(34,.21,.23),(36,.23,.24),(37,.28,.24),(39,.26,.25),(40,.31,.25),(42,.28,.26),
           (43,.23,.27),(46,.29,.28),(47,.34,.28),(48,.26,.29)]
j5_pts = [(.3,.005,.06),(.3,.04,.07),(.6,.02,.07),(.6,.07,.08),(1,.01,.08),(1,.05,.09),(1.5,.03,.09),(1.5,.08,.1),
          (2,.06,.1),(2,.1,.11),(2.5,.04,.11),(3,.08,.12),(3,.12,.13),(4,.06,.13),(4,.1,.14),(5,.08,.15),
          (5,.14,.16),(6,.11,.17),(6,.16,.18),(7,.1,.19),(7,.14,.2),(8,.18,.21),(8,.12,.21),(9,.16,.23),
          (9,.22,.23),(10,.14,.24),(10,.2,.25),(11,.25,.26),(11,.17,.27),(12,.22,.28),(12,.29,.27),(13,.19,.29),
          (13,.26,.3),(14,.32,.3),(14,.23,.31),(15,.29,.32),(15,.36,.31),(16,.26,.33),(16,.33,.33),(17,.4,.33),
          (18,.29,.35),(18,.36,.35),(19,.43,.35),(20,.32,.37),(20,.39,.37),(21,.46,.37),(22,.35,.39),(22,.42,.39),
          (23,.5,.38),(24,.38,.41),(24,.45,.41),(25,.53,.4),(26,.41,.42),(27,.48,.43),(27,.57,.42),(28,.44,.44),
          (29,.52,.44),(29,.6,.43),(30,.38,.46),(31,.47,.46),(32,.56,.46),(33,.42,.48),(34,.5,.48),(35,.6,.47),
          (36,.44,.49),(37,.4,.5),(38,.5,.5),(39,.55,.5),(40,.41,.52),(41,.6,.52),(45,.36,.53),(45,.54,.54),
          (46,.59,.54),(55,.59,.6),(56,.5,.6),(28,.35,.45),(32,.36,.48)]
j5_core = [(.2,.02,.06),(.2,.07,.07),(.5,.05,.07),(.8,.09,.08),(1,.03,.08),(1.2,.07,.09),(1.8,.05,.09),
           (2,.08,.1),(2.5,.1,.11),(3,.06,.11),(3.5,.1,.12),(4,.13,.13),(4.5,.08,.14),(5,.11,.15),(5.5,.15,.16),
           (6,.09,.17),(6.5,.13,.18),(7,.18,.19),(7.5,.16,.2),(8,.21,.21),(8.5,.14,.22),(9.5,.19,.23),
           (10,.24,.24),(10.5,.17,.25),(11,.21,.26),(12,.26,.27),(12.5,.2,.28),(13,.3,.28),(14,.27,.3),
           (15,.24,.31),(15,.33,.31),(16,.3,.32),(17,.36,.33),(17,.27,.34),(18,.32,.35),(19,.39,.35),(19,.3,.36),
           (20,.36,.36),(21,.42,.37),(21,.33,.38),(22,.39,.38),(23,.45,.38),(23,.37,.4),(25,.42,.41),(25,.48,.4),
           (26,.36,.42),(27,.45,.43),(28,.53,.42),(29,.4,.44),(30,.49,.45),(31,.56,.45),(32,.44,.47)]

panel_pts = [n0_pts + n0_core, n1_pts + n1_core, n2_pts + n2_core, n3_pts + n3_core,
             h1_pts + h1_core, h2_pts + h2_core, h3_pts + h3_core, h4_pts + h4_core, h5_pts + h5_core,
             j0_pts + j0_core, j1_pts + j1_core, j2_pts + j2_core, j3_pts + j3_core,
             j4_pts + j4_core, j5_pts + j5_core]

# layout in pixels (left, top, width, height)
W, H = 2000, 1008
boxes = []
for l in [67, 395, 724, 1053]:
    boxes.append((l, 21, 242, 240))
for l in [65, 391, 716, 1042, 1366]:
    boxes.append((l, 361, 238, 239))
for l in [66, 387, 709, 1030, 1352, 1673]:
    boxes.append((l, 700, 235, 240))
cbar_boxes = [(1306, 19, 17, 256), (1617, 359, 17, 250), (1923, 698, 17, 250)]

fig = plt.figure(figsize=(W / 100, H / 100), dpi=100)
norm = Normalize(vmin=0, vmax=0.7)
cmap = plt.get_cmap('jet')
txt_col = '#222222'
edge_col = '#8a8a8a'

for i, name in enumerate(stations):
    l, t, w, h = boxes[i]
    ax = fig.add_axes([l / W, 1 - (t + h) / H, w / W, h / H])
    x, y, c = np.array(panel_pts[i]).T
    ax.scatter(x, y, c=c, cmap=cmap, norm=norm, s=28, linewidths=0, zorder=2)
    k = fit_slope[i]
    xe = min(100, 0.6 / k)
    ax.plot([0, xe], [0, k * xe], color='k', lw=0.8, zorder=3)
    ax.set_xlim(0, 100)
    ax.set_ylim(0, 0.6)
    ax.set_xticks([0, 50, 100])
    ax.set_yticks([0, 0.2, 0.4, 0.6])
    ax.set_yticklabels(['0', '0.2', '0.4', '0.6'])
    ax.grid(color='#e2e2e2', lw=0.7)
    ax.set_axisbelow(True)
    ax.tick_params(direction='in', length=4, width=0.8, color=edge_col,
                   labelsize=12.5, labelcolor=txt_col, pad=4, top=True, right=True)
    for s in ax.spines.values():
        s.set_color(edge_col)
        s.set_linewidth(1.0)
    ax.set_title(name + ', $d$=' + depths[i] + ' m', fontsize=13, color=txt_col, pad=4)
    ax.set_ylabel(r'$H_{s,IGW}$', fontsize=15, color=txt_col, labelpad=5)
    ax.set_xlabel(r'$H_s^2T_m$', fontsize=15, color=txt_col, labelpad=7)
    ax.text(0.95, 0.05, r'$R^2$=' + r2_text[i], transform=ax.transAxes, fontstyle='italic',
            ha='right', va='bottom', fontsize=14, color=txt_col)

sm = ScalarMappable(norm=norm, cmap=cmap)
for l, t, w, h in cbar_boxes:
    cax = fig.add_axes([l / W, 1 - (t + h) / H, w / W, h / H])
    cb = fig.colorbar(sm, cax=cax)
    cb.set_ticks([0, 0.1, 0.2, 0.3, 0.4, 0.5, 0.6])
    cb.set_ticklabels(['0', '0.1', '0.2', '0.3', '0.4', '0.5', '0.6'])
    cb.ax.tick_params(direction='in', length=3, color=edge_col, labelsize=12.5,
                      labelcolor=txt_col, pad=5)
    cb.outline.set_edgecolor(edge_col)
    cb.set_label(r'$H_s/d$', fontsize=14, color=txt_col, labelpad=8)

fig.savefig('out.png', dpi=100)
